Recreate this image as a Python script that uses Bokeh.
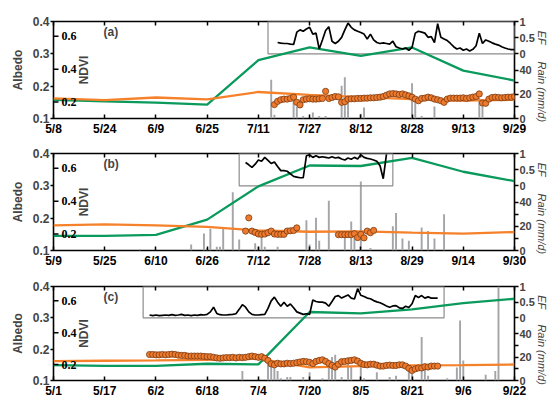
import math
import pandas as pd
from bokeh.plotting import figure
from bokeh.models import (Range1d, LinearAxis, FixedTicker, CustomJSTickFormatter,
                          ColumnDataSource, LabelSet, Label)
from bokeh.layouts import column
from bokeh.embed import file_html
from bokeh.resources import INLINE

YEAR = 2015

# ---------------- shared axis data ----------------
albedo_ticks = [0.1, 0.2, 0.3, 0.4]
ndvi_ticks = [0.2, 0.4, 0.6]
ndvi_labels = ["0.2", "0.4", "0.6"]
ef_ticks = [0, 0.5, 1]
rain_ticks = [0, 10, 20, 30, 40]
rain_label_vals = [0, 20, 40]
ALBEDO_RANGE = (0.1, 0.4)
NDVI_RANGE = (0.1, 0.69)
EF_RANGE = (-2.0, 1.0)
RAIN_RANGE = (0.0, 80.0)
EF_TITLE_AT = 0.5      # EF units
RAIN_TITLE_AT = 22.0   # rain units

# ---------------- panel (a) ----------------
a_ticks = ["5/8", "5/24", "6/9", "6/25", "7/11", "7/27", "8/12", "8/28", "9/13", "9/29"]
a_ndvi = [0.214, 0.204, 0.196, 0.184, 0.455, 0.533, 0.481, 0.532, 0.391, 0.331]
a_albedo = [0.162, 0.157, 0.165, 0.159, 0.182, 0.173, 0.166, 0.160, 0.155, 0.158]
a_dots_start = "7/16"
a_dots = [0.143, 0.153, 0.158, 0.160, 0.160, 0.162, 0.166, 0.150, 0.142, 0.158,
          0.160, 0.161, 0.160, 0.160, 0.161, 0.162, 0.184, 0.162, 0.165, 0.168,
          0.167, 0.150, 0.152, 0.160, 0.161, 0.161, 0.162, 0.162, 0.163, 0.163,
          0.164, 0.164, 0.165, 0.166, 0.168, 0.172, 0.176, 0.177, 0.176, 0.174,
          0.176, 0.173, 0.170, 0.166, 0.160, 0.155, 0.162, 0.163, 0.166, 0.164,
          0.160, 0.158, 0.155, 0.150, 0.160, 0.163, 0.163, 0.163, 0.163, 0.164,
          0.162, 0.164, 0.166, 0.168, 0.176, 0.148, 0.147, 0.160, 0.165, 0.166,
          0.165, 0.164, 0.165, 0.166, 0.166, 0.168]
a_ef_start = "7/17"
a_ef = [0.35, 0.33, 0.32, 0.32, 0.30, 0.29, 0.67, 0.74, 0.70, 0.77,
        0.82, 0.61, 0.64, 0.15, 0.43, 0.72, 0.84, 0.39, 0.32, 0.39,
        0.51, 0.74, 0.95, 0.82, 0.74, 0.70, 0.66, 0.61, 0.46, 0.61,
        0.43, 0.35, 0.32, 0.34, 0.32, 0.30, 0.39, 0.22, 0.18, 0.15,
        0.18, 0.11, 0.20, 0.64, 0.70, 0.67, 0.64, 0.51, 0.53, 0.35,
        0.93, 0.51, 0.46, 0.41, 0.32, 0.22, 0.15, 0.18, 0.11, 0.15,
        0.09, 0.14, 0.25, 0.64, 0.32, 0.43, 0.39, 0.34, 0.30, 0.27,
        0.22, 0.18, 0.15, 0.13, 0.13]
a_rain_dates = ["7/15", "7/16", "7/22", "7/23", "7/25", "7/28", "7/30", "8/1", "8/6", "8/7",
                "8/8", "8/12", "8/13", "8/28", "8/29", "8/31", "9/4", "9/18", "9/19"]
a_rain = [32, 3, 16, 10, 2, 5, 2, 2, 27, 34, 14, 4, 9, 29, 13, 2, 10, 17, 15]
a_box = ["7/14", "9/29"]

# ---------------- panel (b) ----------------
b_ticks = ["5/9", "5/25", "6/10", "6/26", "7/12", "7/28", "8/13", "8/29", "9/14", "9/30"]
b_ndvi = [0.189, 0.189, 0.195, 0.288, 0.490, 0.617, 0.614, 0.664, 0.579, 0.522]
b_albedo = [0.178, 0.181, 0.178, 0.173, 0.162, 0.158, 0.159, 0.155, 0.152, 0.157]
b_dots1_start = "7/8"
b_dots1 = [0.160, 0.201, 0.160, 0.156, 0.151, 0.150, 0.151, 0.155, 0.160, 0.151,
           0.150, 0.150, 0.150, 0.160, 0.161, 0.162, 0.170]
b_dots2_start = "8/6"
b_dots2 = [0.149, 0.149, 0.149, 0.149, 0.149, 0.152, 0.140, 0.150, 0.139, 0.160,
           0.155, 0.162]
b_ef_start = "7/8"
b_ef = [0.72, 0.65, 0.57, 0.67, 0.80, 0.76, 0.88, 0.79, 0.69, 0.74,
        0.60, 0.47, 0.47, 0.45, 0.37, 0.29, 0.27, 0.25, 0.25, 0.93,
        0.96, 0.88, 0.93, 0.88, 0.90, 0.88, 0.86, 0.90, 0.86, 0.88,
        0.83, 0.80, 0.86, 0.82, 0.88, 0.83, 0.96, 0.88, 0.85, 0.83,
        0.80, 0.76, 0.62, 0.22, 0.97]
b_rain_dates = ["6/5", "6/21", "6/25", "6/26", "6/27", "6/29", "6/30", "7/1", "7/4", "7/6",
                "7/11", "7/12", "7/13", "7/14", "7/18", "7/27", "7/28", "7/30", "7/31", "8/3",
                "8/8", "8/10", "8/11", "8/13", "8/16", "8/23", "8/24", "8/26", "8/28", "9/1",
                "9/3", "9/5", "9/8"]
b_rain = [1, 5, 14, 2, 18, 3, 3, 19, 48, 9,
          6, 3, 15, 3, 3, 25, 5, 27, 8, 41,
          12, 24, 16, 57, 2, 20, 31, 10, 8, 19,
          16, 10, 30]
b_box = ["7/6", "8/23"]

# ---------------- panel (c) ----------------
c_ticks = ["5/1", "5/17", "6/2", "6/18", "7/4", "7/20", "8/5", "8/21", "9/6", "9/22"]
c_ndvi = [0.196, 0.192, 0.192, 0.205, 0.201, 0.530, 0.521, 0.547, 0.585, 0.613]
c_albedo = [0.162, 0.163, 0.164, 0.166, 0.170, 0.142, 0.146, 0.148, 0.149, 0.151]
c_dots_start = "5/31"
c_dots = [0.183, 0.183, 0.182, 0.182, 0.183, 0.182, 0.183, 0.184, 0.183, 0.181,
          0.180, 0.180, 0.178, 0.178, 0.178, 0.178, 0.178, 0.177, 0.176, 0.176,
          0.174, 0.172, 0.171, 0.172, 0.173, 0.173, 0.174, 0.172, 0.174, 0.173,
          0.174, 0.176, 0.178, 0.176, 0.174, 0.176, 0.171, 0.164, 0.153, 0.150,
          0.155, 0.153, 0.153, 0.155, 0.154, 0.155, 0.157, 0.159, 0.161, 0.160,
          0.158, 0.154, 0.161, 0.164, 0.166, 0.161, 0.154, 0.148, 0.143, 0.152,
          0.160, 0.161, 0.163, 0.164, 0.166, 0.162, 0.155, 0.151, 0.150, 0.152,
          0.152, 0.149, 0.146, 0.146, 0.148, 0.149, 0.148, 0.148, 0.150, 0.150,
          0.146, 0.139, 0.132, 0.137, 0.140, 0.140, 0.144, 0.143, 0.146, 0.146, 0.146]
c_ef_start = "5/31"
c_ef = [0.09, 0.07, 0.09, 0.07, 0.08, 0.09, 0.08, 0.10, 0.08, 0.09,
        0.11, 0.08, 0.09, 0.07, 0.09, 0.08, 0.10, 0.09, 0.11, 0.19,
        0.34, 0.14, 0.10, 0.09, 0.09, 0.10, 0.11, 0.13, 0.27, 0.42,
        0.34, 0.19, 0.11, 0.09, 0.09, 0.10, 0.11, 0.30, 0.54, 0.66,
        0.50, 0.37, 0.50, 0.37, 0.44, 0.32, 0.19, 0.15, 0.11, 0.13,
        0.11, 0.57, 0.52, 0.50, 0.50, 0.47, 0.37, 0.52, 0.68, 0.71,
        0.63, 0.68, 0.73, 0.63, 0.60, 0.93, 0.72, 0.68, 0.63, 0.61,
        0.55, 0.51, 0.48, 0.43, 0.38, 0.34, 0.38, 0.39, 0.32, 0.30,
        0.37, 0.33, 0.45, 0.71, 0.65, 0.71, 0.63, 0.67, 0.63, 0.63, 0.63]
c_rain_dates = ["6/29", "7/7", "7/8", "7/9", "7/10", "7/11", "7/13", "7/14", "7/18", "7/20",
                "7/24", "7/26", "7/27", "7/28", "7/30", "8/1", "8/2", "8/5", "8/6", "8/10",
                "8/14", "8/16", "8/20", "8/21", "8/24", "8/25", "8/26", "9/1", "9/4", "9/5",
                "9/6", "9/13", "9/16", "9/17"]
c_rain = [8, 20, 16, 13, 8, 2, 3, 3, 3, 7,
          2, 12, 20, 22, 3, 16, 12, 12, 2, 7,
          3, 4, 12, 6, 37, 12, 4, 2, 11, 51,
          17, 5, 8, 80]
c_box = ["5/29", "8/31"]

# ---------------- style ----------------
GREEN = "#0A9A5C"
ORANGE = "#F5812B"
DOT_FILL = "#EE7A2E"
DOT_LINE = "#7A3B12"
RAIN_COLOR = "#A3A5A8"
BOX_COLOR = "#8C8C8C"
FONT = "Liberation Sans"


def doy(s):
    m, d = s.split("/")
    return int(pd.Timestamp(year=YEAR, month=int(m), day=int(d)).dayofyear)


def daily(start, vals):
    s = doy(start)
    return [s + i for i in range(len(vals))]


def rain_to_ef(r):
    return EF_RANGE[0] + (r - RAIN_RANGE[0]) * (EF_RANGE[1] - EF_RANGE[0]) / (RAIN_RANGE[1] - RAIN_RANGE[0])


def make_panel(letter, ticks, ndvi, albedo, dot_runs, ef_start, ef,
               rain_dates, rain, box, height, top, bottom):
    tx = [doy(t) for t in ticks]
    p = figure(width=550, height=height, output_backend="svg", toolbar_location=None,
               x_range=Range1d(tx[0], tx[-1]), y_range=Range1d(*ALBEDO_RANGE),
               min_border_left=53, min_border_right=33,
               min_border_top=top, min_border_bottom=bottom)
    p.extra_y_ranges = {"ndvi": Range1d(*NDVI_RANGE), "ef": Range1d(*EF_RANGE),
                        "rain": Range1d(*RAIN_RANGE)}
    p.xgrid.visible = False
    p.ygrid.visible = False
    p.outline_line_color = "black"
    p.outline_line_width = 1.6
    p.outline_line_alpha = 1.0
    p.background_fill_color = "white"
    p.border_fill_color = "white"

    # bottom x axis
    xa = p.xaxis[0]
    xa.ticker = FixedTicker(ticks=tx)
    xa.major_label_overrides = {x: t for x, t in zip(tx, ticks)}
    xa.major_tick_in = 4
    xa.major_tick_out = 0
    xa.minor_tick_in = 0
    xa.minor_tick_out = 0
    xa.axis_line_color = None
    xa.major_tick_line_width = 1.5
    xa.major_label_standoff = 3
    xa.major_label_text_font = FONT
    xa.major_label_text_font_style = "bold"
    xa.major_label_text_font_size = "12px"
    xa.major_label_text_color = "black"

    # top ticks
    top_ax = LinearAxis(ticker=FixedTicker(ticks=tx),
                        formatter=CustomJSTickFormatter(code="return '';"),
                        major_tick_in=4, major_tick_out=0, minor_tick_in=0, minor_tick_out=0,
                        major_tick_line_width=1.5, axis_line_color=None,
                        major_label_standoff=0)
    p.add_layout(top_ax, "above")

    # left albedo axis
    ya = p.yaxis[0]
    ya.ticker = FixedTicker(ticks=albedo_ticks)
    ya.axis_label = "Albedo"
    ya.axis_label_text_font = FONT
    ya.axis_label_text_font_style = "bold"
    ya.axis_label_text_font_size = "12px"
    ya.axis_label_standoff = 5
    ya.major_tick_out = 3
    ya.major_tick_in = 0
    ya.minor_tick_in = 0
    ya.minor_tick_out = 0
    ya.major_tick_line_width = 1.5
    ya.axis_line_color = None
    ya.major_label_standoff = 1
    ya.major_label_text_font = FONT
    ya.major_label_text_font_style = "bold"
    ya.major_label_text_font_size = "12px"

    # right axis: EF ticks (top) and rain ticks (bottom) share one column
    rain_as_ef = [rain_to_ef(r) for r in rain_ticks]
    fmt = CustomJSTickFormatter(
        args=dict(lo=EF_RANGE[0], hi=EF_RANGE[1], rlo=RAIN_RANGE[0], rhi=RAIN_RANGE[1],
                  shown=rain_label_vals),
        code="""
        if (tick >= 0) return String(tick);
        const r = Math.round(rlo + (tick - lo) * (rhi - rlo) / (hi - lo));
        return shown.includes(r) ? String(r) : '';
        """)
    ra = LinearAxis(y_range_name="ef", ticker=FixedTicker(ticks=ef_ticks + rain_as_ef),
                    formatter=fmt,
                    major_tick_out=4, major_tick_in=0, minor_tick_in=0, minor_tick_out=0,
                    major_tick_line_width=1.5, axis_line_color=None,
                    major_label_standoff=1, major_label_text_font=FONT,
                    major_label_text_font_style="bold", major_label_text_font_size="11px")
    p.add_layout(ra, "right")

    # right titles "EF" and "Rain (mm/d)" as rotated tick labels of a tickless axis
    tfmt = CustomJSTickFormatter(code="return tick >= 0 ? 'EF' : 'Rain (mm/d)';")
    ta = LinearAxis(y_range_name="ef",
                    ticker=FixedTicker(ticks=[EF_TITLE_AT, rain_to_ef(RAIN_TITLE_AT)]),
                    formatter=tfmt, major_label_orientation="vertical",
                    major_tick_out=0, major_tick_in=0, minor_tick_in=0, minor_tick_out=0,
                    axis_line_color=None, major_label_standoff=-2,
                    major_label_text_font=FONT, major_label_text_font_style="italic",
                    major_label_text_font_size="11px")
    p.add_layout(ta, "right")

    x0 = tx[0]

    # rain bars
    p.vbar(x=[doy(d) for d in rain_dates], top=rain, bottom=0, width=0.6,
           y_range_name="rain", fill_color=RAIN_COLOR, line_color=None)

    # inset box for EF
    p.quad(left=[doy(box[0])], right=[doy(box[1])], bottom=[0], top=[1], y_range_name="ef",
           fill_color=None, line_color=BOX_COLOR, line_width=1.2)

    # NDVI and albedo composites
    p.line(tx, ndvi, y_range_name="ndvi", line_color=GREEN, line_width=2.3)
    p.line(tx, albedo, line_color=ORANGE, line_width=2.3)

    # daily albedo dots
    for start, vals in dot_runs:
        p.scatter(daily(start, vals), vals, size=6.2, fill_color=DOT_FILL,
                  line_color=DOT_LINE, line_width=0.8)

    # EF line
    p.line(daily(ef_start, ef), ef, y_range_name="ef", line_color="black", line_width=1.7)

    # inner NDVI axis
    p.ray(x=[x0] * len(ndvi_ticks), y=ndvi_ticks, length=5, length_units="screen",
          angle=0, y_range_name="ndvi", line_color="black", line_width=1.5)
    p.add_layout(LabelSet(x="x", y="y", text="text", y_range_name="ndvi", x_offset=8,
                          source=ColumnDataSource(dict(x=[x0] * len(ndvi_ticks), y=ndvi_ticks,
                                                       text=ndvi_labels)),
                          text_baseline="middle", text_font=FONT, text_font_style="bold",
                          text_font_size="12px", text_color="black"))
    p.add_layout(Label(x=x0, y=sum(ALBEDO_RANGE) / 2, x_offset=30, text="NDVI",
                       angle=math.pi / 2, text_align="center", text_baseline="middle",
                       text_font=FONT, text_font_style="bold", text_font_size="12px"))

    # panel letter
    p.add_layout(Label(x=x0, y=0.368, x_offset=50, text=letter, text_baseline="middle",
                       text_font=FONT, text_font_style="bold", text_font_size="12px"))
    return p


pa = make_panel("(a)", a_ticks, a_ndvi, a_albedo, [(a_dots_start, a_dots)], a_ef_start, a_ef,
                a_rain_dates, a_rain, a_box, 139, 21, 21)
pb = make_panel("(b)", b_ticks, b_ndvi, b_albedo,
                [(b_dots1_start, b_dots1), (b_dots2_start, b_dots2)], b_ef_start, b_ef,
                b_rain_dates, b_rain, b_box, 133, 14, 22)
pc = make_panel("(c)", c_ticks, c_ndvi, c_albedo, [(c_dots_start, c_dots)], c_ef_start, c_ef,
                c_rain_dates, c_rain, c_box, 128, 14, 17)

layout = column(pa, pb, pc, spacing=0)
open("out.html", "w").write(file_html(layout, INLINE))
